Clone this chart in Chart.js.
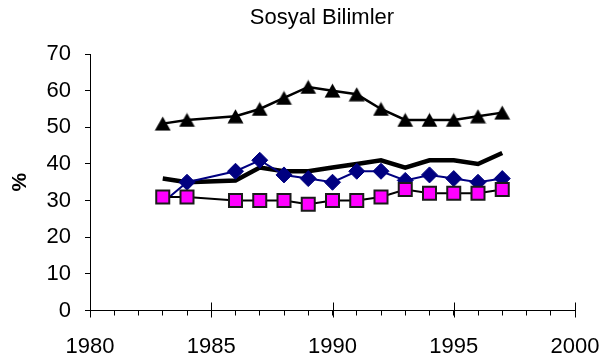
<!DOCTYPE html>
<html>
<head>
<meta charset="utf-8">
<script src="https://cdn.jsdelivr.net/npm/chart.js@4/dist/chart.umd.min.js"></script>
<style>
  html, body { margin: 0; padding: 0; background: #ffffff; }
  #wrap { width: 602px; height: 362px; }
</style>
</head>
<body>
<div id="wrap"><canvas id="c" width="602" height="362"></canvas></div>
<script>
// ---- data ----
const chartTitle = 'Sosyal Bilimler';
const yAxisTitle = '%';
const years = [1983, 1984, 1986, 1987, 1988, 1989, 1990, 1991, 1992, 1993, 1994, 1995, 1996, 1997];
const seriesTriangle = [51, 52, 53, 55, 58, 61, 60, 59, 55, 52, 52, 52, 53, 54];
const seriesSquare   = [31, 31, 30, 30, 30, 29, 30, 30, 31, 33, 32, 32, 32, 33];
const seriesDiamond  = [29.5, 35, 38, 41, 37, 36, 35, 38, 38, 35.5, 37, 36, 35, 36];
const seriesThick    = [36, 35, 35.5, 39, 38, 38, 39, 40, 41, 39, 41, 41, 40, 43];
const xMin = 1980, xMax = 2000, xMajorStep = 5;
const yMin = 0, yMax = 70, yStep = 10;

function pts(vals) { return years.map((yr, i) => ({ x: yr, y: vals[i] })); }

// centered triangle marker
function triangleMarker() {
  const c = document.createElement('canvas');
  c.width = 17; c.height = 15;
  const g = c.getContext('2d');
  g.fillStyle = '#000000';
  g.beginPath();
  g.moveTo(8.5, 0.5);
  g.lineTo(16.5, 14.5);
  g.lineTo(0.5, 14.5);
  g.closePath();
  g.fill();
  return c;
}

const FONT = '"Liberation Sans", Arial, Helvetica, sans-serif';

const extras = {
  id: 'extras',
  afterDraw(chart) {
    const ctx = chart.ctx;
    const xs = chart.scales.x;
    const bottom = chart.chartArea.bottom;
    ctx.save();
    ctx.strokeStyle = '#000000';
    ctx.lineWidth = 1;
    for (let v = xMin; v <= xMax; v += xMajorStep) {
      const px = Math.round(xs.getPixelForValue(v)) + 0.5;
      ctx.beginPath();
      ctx.moveTo(px, bottom - 8);
      ctx.lineTo(px, bottom + 7);
      ctx.stroke();
    }
    ctx.fillStyle = '#000000';
    ctx.font = '22px ' + FONT;
    ctx.textAlign = 'center';
    ctx.textBaseline = 'alphabetic';
    ctx.fillText(chartTitle, 322, 24);
    ctx.restore();
  }
};

new Chart(document.getElementById('c'), {
  type: 'line',
  data: {
    datasets: [
      {
        label: 'A',
        data: pts(seriesTriangle),
        borderColor: '#000000',
        borderWidth: 2.5,
        pointStyle: triangleMarker(),
        pointRadius: 8,
        tension: 0
      },
      {
        label: 'B',
        data: pts(seriesSquare),
        borderColor: '#000000',
        borderWidth: 2,
        pointStyle: 'rect',
        pointRadius: 9.2,
        pointBackgroundColor: '#ff00ff',
        pointBorderColor: '#1a1a1a',
        pointBorderWidth: 2,
        tension: 0
      },
      {
        label: 'C',
        data: pts(seriesDiamond),
        borderColor: '#000080',
        borderWidth: 2,
        pointStyle: 'rectRot',
        pointRadius: (ctx) => (ctx.dataIndex === 0 ? 0 : 8),
        pointBackgroundColor: '#000080',
        pointBorderColor: '#000080',
        pointBorderWidth: 1,
        tension: 0
      },
      {
        label: 'D',
        data: pts(seriesThick),
        borderColor: '#000000',
        borderWidth: 4.5,
        pointRadius: 0,
        tension: 0
      }
    ]
  },
  options: {
    responsive: false,
    animation: false,
    devicePixelRatio: 1,
    clip: false,
    layout: { padding: { top: 54, right: 27, bottom: 0, left: 0 } },
    plugins: {
      legend: { display: false },
      title: { display: false },
      tooltip: { enabled: false }
    },
    scales: {
      x: {
        type: 'linear',
        min: xMin,
        max: xMax,
        afterFit(scale) { scale.height = 51.5; scale.paddingLeft = 0; scale.paddingRight = 0; },
        border: { display: true, color: '#000000', width: 1 },
        grid: { display: true, drawOnChartArea: false, drawTicks: true, tickLength: 5, color: '#000000' },
        ticks: {
          stepSize: 1,
          autoSkip: false,
          maxRotation: 0,
          padding: 18,
          color: '#000000',
          font: { family: FONT, size: 22 },
          callback: (v) => (v % xMajorStep === 0 ? String(v) : '')
        }
      },
      y: {
        min: yMin,
        max: yMax,
        afterFit(scale) { scale.width = 90; scale.paddingTop = 0; scale.paddingBottom = 0; },
        border: { display: true, color: '#000000', width: 1 },
        grid: { display: true, drawOnChartArea: false, drawTicks: true, tickLength: 5, color: '#000000' },
        ticks: {
          stepSize: yStep,
          padding: 14,
          color: '#000000',
          font: { family: FONT, size: 22 }
        },
        title: {
          display: true,
          text: yAxisTitle,
          color: '#000000',
          font: { family: FONT, size: 21, weight: 'bold' },
          padding: { top: 8, bottom: 0 }
        }
      }
    }
  },
  plugins: [extras]
});
</script>
</body>
</html>
